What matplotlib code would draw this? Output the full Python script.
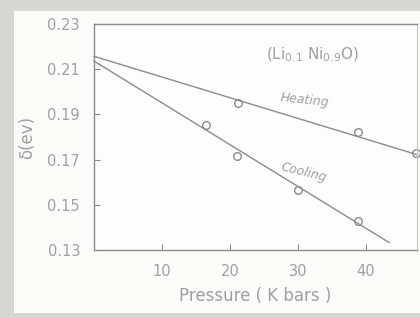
import matplotlib
matplotlib.use("Agg")
import matplotlib.pyplot as plt
from matplotlib.patches import Rectangle

# heating branch
heat_p = [21.2, 38.8, 47.3]
heat_d = [0.195, 0.182, 0.173]
heat_line_p = [0.0, 47.5]
heat_line_d = [0.2157, 0.1722]

# cooling branch
cool_p = [16.5, 21.0, 30.0, 38.8]
cool_d = [0.1853, 0.1716, 0.1565, 0.1428]
cool_line_p = [0.0, 43.4]
cool_line_d = [0.2136, 0.1333]

xticks = [10, 20, 30, 40]
yticks = [0.13, 0.15, 0.17, 0.19, 0.21, 0.23]

INK = "#8c8c8c"
TXT = "#a0a0a0"
FONT = "DejaVu Sans"

fig = plt.figure(figsize=(4.2, 3.17), dpi=100)
fig.patch.set_facecolor("#d6d6d2")
paper = Rectangle((14 / 420, 4 / 317), 1.0, 1 - 15 / 317,
                  transform=fig.transFigure, facecolor="#fbfbf8",
                  edgecolor="none", zorder=-10)
fig.add_artist(paper)

ax = fig.add_axes([94 / 420, 67 / 317, 323 / 420, 226 / 317])
ax.set_facecolor("#fdfdfb")
ax.set_zorder(5)

ax.plot(heat_line_p, heat_line_d, color=INK, lw=1.0, clip_on=False)
ax.plot(cool_line_p, cool_line_d, color=INK, lw=1.0, clip_on=False)
ax.plot(heat_p, heat_d, "o", ms=5.5, mfc="none", mec=INK, mew=1.0, clip_on=False)
ax.plot(cool_p, cool_d, "o", ms=5.5, mfc="none", mec=INK, mew=1.0, clip_on=False)

ax.set_xlim(0, 47.5)
ax.set_ylim(0.13, 0.23)
ax.set_xticks(xticks)
ax.set_yticks(yticks)
ax.set_xticklabels([str(t) for t in xticks])
ax.set_yticklabels([f"{t:.2f}" for t in yticks])
ax.tick_params(direction="in", length=4, color=INK, labelcolor=TXT,
               labelsize=10.5, pad=10)
for lab in ax.get_xticklabels() + ax.get_yticklabels():
    lab.set_fontfamily(FONT)

for side in ["left", "bottom", "top"]:
    ax.spines[side].set_color(INK)
    ax.spines[side].set_linewidth(1.0)
ax.spines["right"].set_color("#c4c4c0")
ax.spines["right"].set_linewidth(0.8)

ax.set_xlabel("Pressure ( K bars )", fontsize=12, color=TXT,
              family=FONT, labelpad=6)
ax.set_ylabel("δ(ev)", fontsize=12, color=TXT, family=FONT,
              labelpad=8)

ax.text(27.3, 0.1935, "Heating", fontsize=9, color=TXT,
        family=FONT, rotation=-6, style="italic")
ax.text(27.3, 0.1605, "Cooling", fontsize=9, color=TXT,
        family=FONT, rotation=-14, style="italic")
ax.text(25.3, 0.2163, "(Li$_{0.1}$ Ni$_{0.9}$O)", fontsize=11,
        color=TXT, family=FONT, va="center")

fig.savefig("out.png", dpi=100, facecolor=fig.get_facecolor())
